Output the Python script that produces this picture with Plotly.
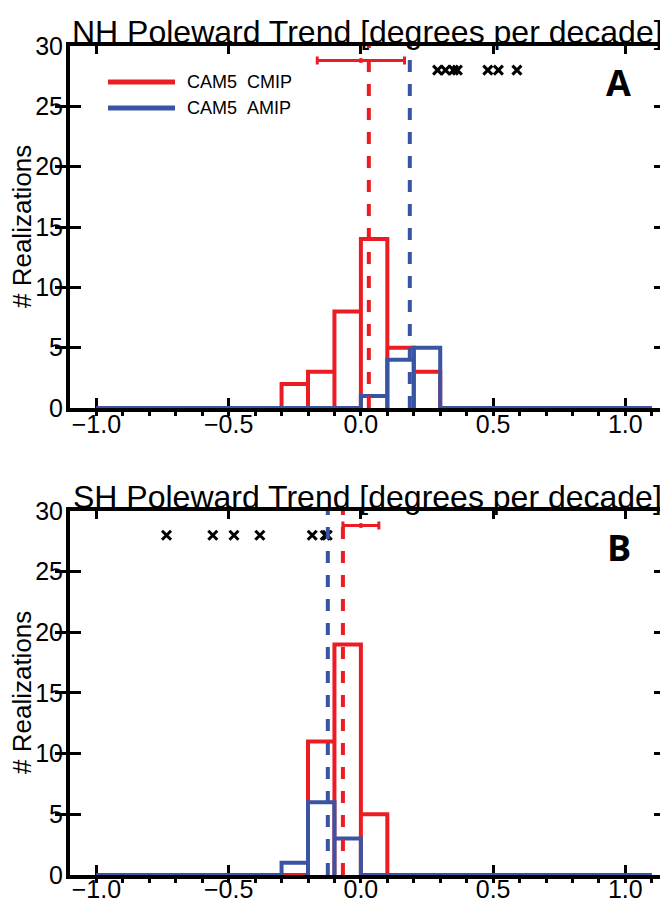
import plotly.graph_objects as go

# ---------------- data ----------------
bin_edges = [-1.0, -0.9, -0.8, -0.7, -0.6, -0.5, -0.4, -0.3, -0.2, -0.1, 0.0,
             0.1, 0.2, 0.3, 0.4, 0.5, 0.6, 0.7, 0.8, 0.9, 1.0, 1.1]

nh_cmip_counts = [0, 0, 0, 0, 0, 0, 0, 2, 3, 8, 14, 5, 3, 0, 0, 0, 0, 0, 0, 0, 0]
nh_amip_counts = [0, 0, 0, 0, 0, 0, 0, 0, 0, 0, 1, 4, 5, 0, 0, 0, 0, 0, 0, 0, 0]
sh_cmip_counts = [0, 0, 0, 0, 0, 0, 0, 0, 11, 19, 5, 0, 0, 0, 0, 0, 0, 0, 0, 0, 0]
sh_amip_counts = [0, 0, 0, 0, 0, 0, 0, 1, 6, 3, 0, 0, 0, 0, 0, 0, 0, 0, 0, 0, 0]

nh_cmip_mean = 0.03
nh_amip_mean = 0.185
sh_cmip_mean = -0.068
sh_amip_mean = -0.125

nh_obs_x = [0.29, 0.32, 0.35, 0.365, 0.48, 0.52, 0.59]
sh_obs_x = [-0.735, -0.56, -0.48, -0.382, -0.184, -0.135, -0.127]
obs_level = 28

nh_err_center = 0.0
nh_err_half = 0.165
sh_err_center = 0.0
sh_err_half = 0.068
err_level = 28.8

x_tick_vals = [-1.0, -0.5, 0.0, 0.5, 1.0]
x_tick_text = ["\u22121.0", "\u22120.5", "0.0", "0.5", "1.0"]
y_tick_vals = [0, 5, 10, 15, 20, 25, 30]

panel_titles = ["NH Poleward Trend [degrees per decade]",
                "SH Poleward Trend [degrees per decade]"]
panel_letters = ["A", "B"]
series_names = ["CAM5\u00a0\u00a0CMIP", "CAM5\u00a0\u00a0AMIP"]

RED = "#EC1C24"
BLUE = "#3A54A4"
FONT = "Liberation Sans, Arial, sans-serif"


def outline(edges, counts):
    xs, ys = [], []
    for i, c in enumerate(counts):
        l, r = edges[i], edges[i + 1]
        xs += [l, l, r, r]
        ys += [0, c, c, 0]
    return xs, ys


fig = go.Figure()

panels = [
    (nh_cmip_counts, nh_amip_counts, nh_cmip_mean, nh_amip_mean, nh_obs_x, nh_err_center, nh_err_half),
    (sh_cmip_counts, sh_amip_counts, sh_cmip_mean, sh_amip_mean, sh_obs_x, sh_err_center, sh_err_half),
]

for p, (cc, ac, cm, am, obs, ec, eh) in enumerate(panels):
    xa = "x" if p == 0 else "x2"
    ya = "y" if p == 0 else "y2"
    for counts, col in [(cc, RED), (ac, BLUE)]:
        xs, ys = outline(bin_edges, counts)
        fig.add_trace(go.Scatter(x=xs, y=ys, mode="lines",
                                 line=dict(color=col, width=4),
                                 xaxis=xa, yaxis=ya, showlegend=False,
                                 hoverinfo="skip"))
    fig.add_trace(go.Scatter(x=obs, y=[obs_level] * len(obs), mode="markers",
                             marker=dict(symbol="x-thin", size=9, color="black",
                                         line=dict(color="black", width=3)),
                             xaxis=xa, yaxis=ya, showlegend=False))
    fig.add_trace(go.Scatter(x=[ec], y=[err_level], mode="markers",
                             marker=dict(size=5, color=RED),
                             error_x=dict(type="data", array=[eh], color=RED,
                                          thickness=3, width=4),
                             xaxis=xa, yaxis=ya, showlegend=False))
    for m, col in [(cm, RED), (am, BLUE)]:
        fig.add_shape(type="line", xref=xa, yref=f"{ya} domain", x0=m, x1=m,
                      y0=0, y1=1, line=dict(color=col, width=4, dash="12px,12px"))
    # titles
    fig.add_annotation(text=panel_titles[p], xref=f"{xa} domain", yref=f"{ya} domain",
                       x=0.5, y=1, xanchor="center", yanchor="bottom", yshift=-6,
                       showarrow=False, font=dict(family=FONT, size=32, color="black"))
    fig.add_annotation(text=f"<b>{panel_letters[p]}</b>", xref=xa, yref=ya,
                       x=0.975, y=27, xanchor="center", yanchor="middle",
                       showarrow=False, font=dict(family="Open Sans, sans-serif", size=36, color="black"))
    fig.add_annotation(text="# Realizations", xref="paper", yref=f"{ya} domain",
                       x=0, y=0.5, xanchor="center", yanchor="middle", xshift=-48,
                       textangle=-90, showarrow=False,
                       font=dict(family=FONT, size=26, color="black"))

# legend (panel A)
for i, (name, col) in enumerate(zip(series_names, [RED, BLUE])):
    yy = 0.9006 - i * 0.0719
    fig.add_shape(type="line", xref="x domain", yref="y domain", x0=0.0639, x1=0.1765,
                  y0=yy, y1=yy, line=dict(color=col, width=5))
    fig.add_annotation(text=name, xref="x domain", yref="y domain", x=0.193, y=yy,
                       xanchor="left", yanchor="middle", showarrow=False,
                       font=dict(family=FONT, size=18, color="black"))

# invisible traces for the top overlay axes
fig.add_trace(go.Scatter(x=[bin_edges[0]], y=[0], xaxis="x3", yaxis="y", mode="markers",
                         marker=dict(opacity=0), showlegend=False, hoverinfo="skip"))
fig.add_trace(go.Scatter(x=[bin_edges[0]], y=[0], xaxis="x4", yaxis="y2", mode="markers",
                         marker=dict(opacity=0), showlegend=False, hoverinfo="skip"))

xcommon = dict(range=[-1.1, 1.15], tickvals=x_tick_vals, ticktext=x_tick_text,
               ticks="inside", ticklen=10, tickwidth=3, tickcolor="black",
               showline=True, linewidth=4, linecolor="black", mirror=True,
               showgrid=False, zeroline=False, layer="below traces", automargin=False,
               tickfont=dict(family=FONT, size=25, color="black"),
               minor=dict(dtick=0.1, tick0=0, ticks="outside", ticklen=4,
                          tickwidth=3, tickcolor="black", showgrid=False))
xtop = dict(range=[-1.1, 1.15], tickvals=x_tick_vals, ticks="inside", ticklen=8,
            tickwidth=3, tickcolor="black", showticklabels=False, showline=False,
            showgrid=False, zeroline=False, side="top", automargin=False)
ycommon = dict(range=[0, 30], tickvals=y_tick_vals, ticks="inside", ticklen=11,
               tickwidth=3, tickcolor="black", showline=True, linewidth=4,
               linecolor="black", mirror="allticks", showgrid=False, zeroline=False,
               layer="below traces", ticklabelstandoff=-2, automargin=False,
               tickfont=dict(family=FONT, size=25, color="black"))

# the page adds an 8px body margin, so the figure is shifted by 8px in the screenshot
fig.update_layout(
    width=668, height=902,
    margin=dict(l=62, r=11, t=38, b=35, autoexpand=False),
    paper_bgcolor="white", plot_bgcolor="white",
    showlegend=False,
    xaxis=dict(**xcommon, domain=[0, 1], anchor="y", ticklabelstandoff=-9),
    xaxis2=dict(**xcommon, domain=[0, 1], anchor="y2", ticklabelstandoff=-11),
    xaxis3=dict(**xtop, overlaying="x", anchor="y", matches="x"),
    xaxis4=dict(**xtop, overlaying="x2", anchor="y2", matches="x2"),
    yaxis=dict(**ycommon, domain=[0.5633, 1.0], anchor="x"),
    yaxis2=dict(**ycommon, domain=[0.0, 0.4391], anchor="x2"),
)

fig.write_html("out.html")
